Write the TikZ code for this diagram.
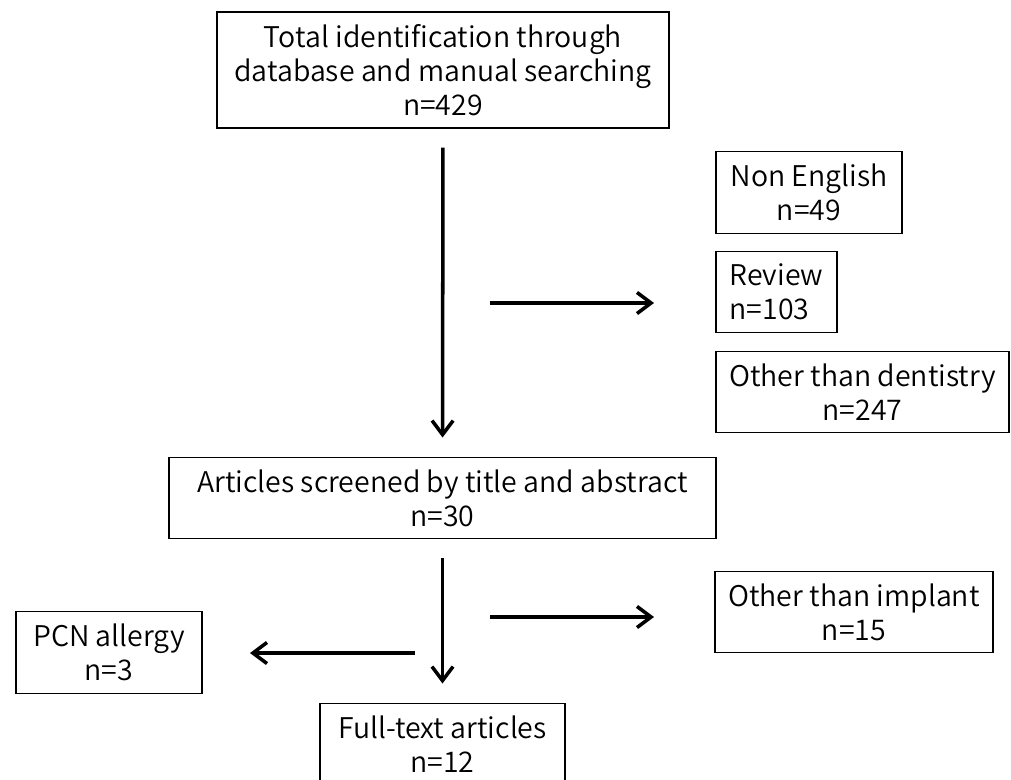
\documentclass[tikz,border=0pt]{standalone}
\usepackage{fontspec}
\setmainfont{Noto Sans CJK JP}[UprightFont=* DemiLight]
\usetikzlibrary{arrows.meta}
\def\gap{0.38cm}

\begin{document}
\begin{tikzpicture}[x=0.02cm, y=-0.02cm,
    caja/.style={draw, line width=0.8pt, minimum height=1.63cm, inner sep=0pt,
      align=center, font=\fontsize{16.2}{19.5}\selectfont},
    flecha/.style={-{Straight Barb[length=8pt,width=12pt]}, line width=2pt}]
    \useasboundingbox (0,0) rectangle (1011,780);
    \clip (0,0) rectangle (1011,780);

    % Columna central
    \node[caja, minimum width=9.04cm, minimum height=2.32cm] (total) at (443,70)
      {Total identification through\\database and manual searching\\n=429};
    \node[caja, minimum width=10.94cm] (screen) at (442.5,498)
      {Articles screened by title and abstract\\n=30};
    \node[caja, minimum width=4.9cm] (full) at (442.5,744)
      {Full-text articles\\n=12};

    % Excluidos
    \node[caja, minimum width=3.72cm] (noeng) at (809,192.5) {Non English\\n=49};
    \node[caja, minimum width=2.42cm, align=left] (review) at (776.5,292) {Review\\n=103};
    \node[caja, minimum width=5.86cm] (dent) at (862.5,392) {Other than dentistry\\n=247};
    \node[caja, minimum width=5.56cm] (implant) at (854,612) {Other than implant\\n=15};
    \node[caja, minimum width=3.72cm] (pcn) at (109,652.5) {PCN allergy\\n=3};

    % Extremos de las flechas laterales
    \coordinate (ex1) at (490,303);
    \coordinate (ex1f) at (654,303);
    \coordinate (ex2) at (490,617);
    \coordinate (ex2f) at (654,617);
    \coordinate (ex3) at (415,653);
    \coordinate (ex3f) at (250,653);

    % Flechas
    \draw[flecha, shorten <=\gap, shorten >=\gap] (total) -- (screen);
    \draw[flecha, shorten <=\gap, shorten >=\gap] (screen) -- (full);
    \draw[flecha] (ex1) -- (ex1f);
    \draw[flecha] (ex2) -- (ex2f);
    \draw[flecha] (ex3) -- (ex3f);
\end{tikzpicture}
\end{document}
